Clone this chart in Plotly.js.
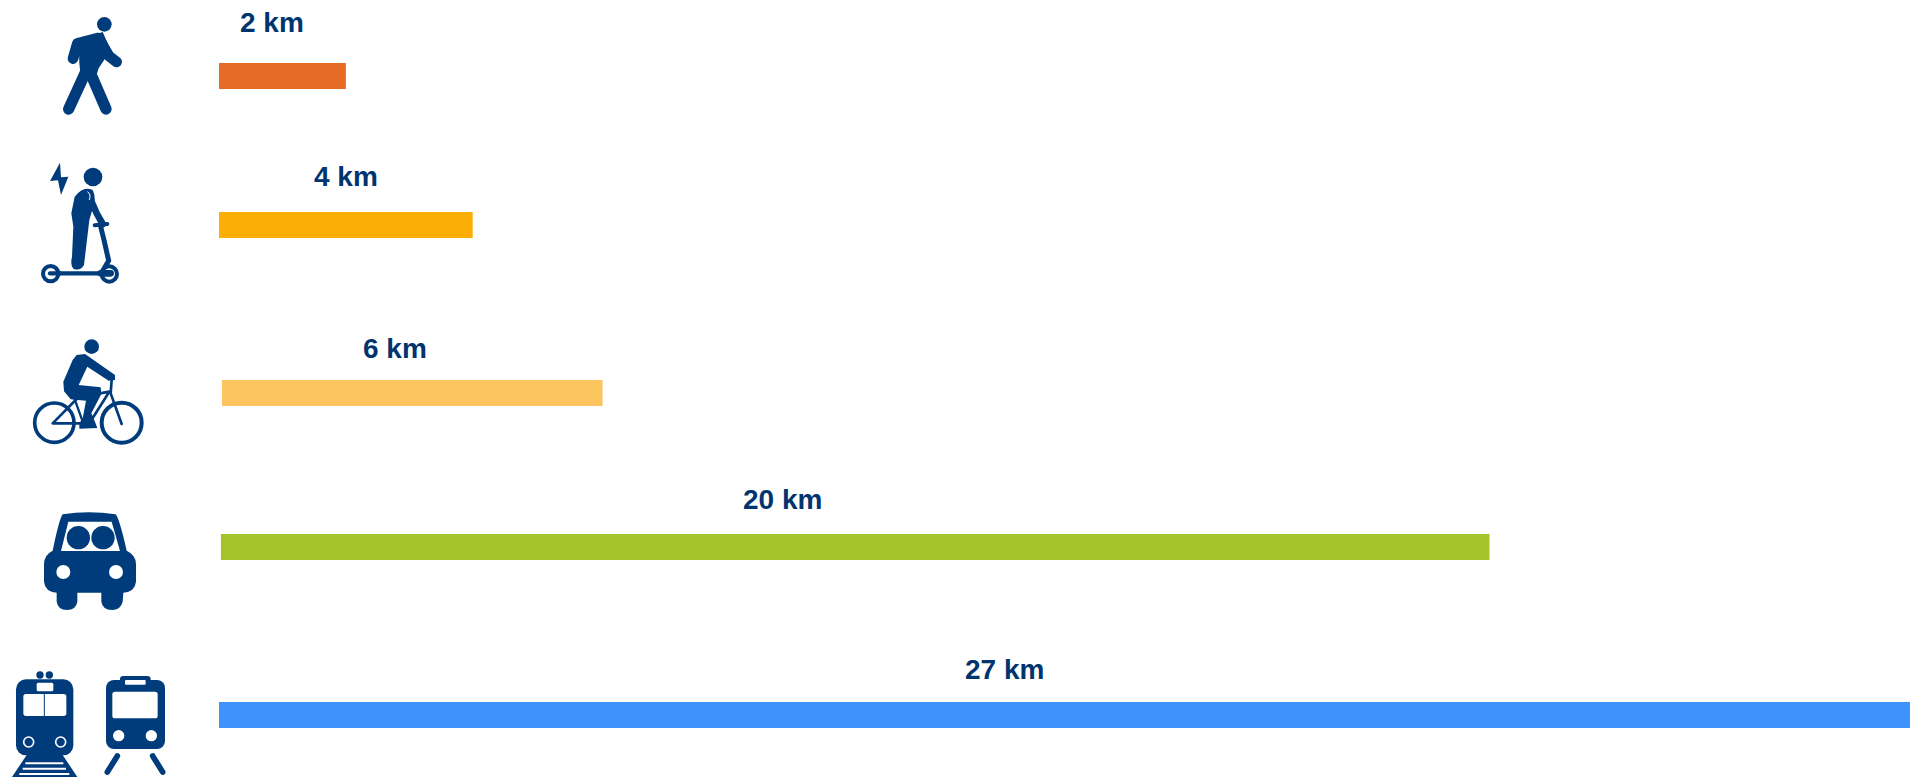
<!DOCTYPE html>
<html><head><meta charset="utf-8">
<script src="https://cdn.plot.ly/plotly-3.0.1.min.js"></script>
<style>html,body{margin:0;padding:0;background:#fff;overflow:hidden}#c{width:1910px;height:777px}</style>
</head><body><div id="c"></div>
<script>
// Data
const modes = ["Marche", "Trottinette électrique", "Vélo", "Voiture", "Train"];
const distancesKm = [2, 4, 6, 20, 27];
const barStartKm = [0, 0, 0.047, 0.03, 0];
const rowCentre = [76, 225, 393, 547, 715];
const labelAtKm = [0.83, 2.0, 2.77, 8.88, 12.38];
const labelRow = [22, 176, 348, 499, 669];
const barColours = ["#E66C25", "#FBAE05", "#FBC45F", "#A4C52A", "#3D92FB"];

const PX_PER_KM = 63.43, LEFT = 219, W = 1910, H = 777;
const INK = "#003C7C";

// Icons, drawn at 3x page coordinates
const walker = `
<circle cx="313" cy="73" r="22"/>
<g fill="none" stroke-linecap="round" stroke-linejoin="round" stroke="${INK}">
<polyline stroke-width="32" points="219,176 232,130 295,114"/>
<polyline stroke-width="32" points="302,125 327,168 350,186"/>
<polyline stroke-width="34" points="262,205 206,327"/>
<polyline stroke-width="34" points="265,205 318,327"/>
</g>
<polygon points="236,120 308,96 332,150 296,205 284,242 243,238 238,190"/>`;

const scooter = `
<polygon points="180,488 150,543 174,541 183,585 205,530 183,532"/>
<circle cx="279" cy="531" r="28"/>
<path d="M224 590 Q250 556 278 570 Q288 590 282 612 L268 660 L252 795 Q240 815 220 806 Q210 795 216 770 L220 680 L214 640 Z"/>
<g fill="none" stroke-linecap="round" stroke="${INK}">
<polyline stroke-width="20" points="268,590 290,640 308,672"/>
<polyline stroke-width="12" points="284,676 322,672"/>
<polyline stroke-width="15" points="300,672 312,720 326,782 305,818"/>
<line stroke-width="13" x1="150" y1="820" x2="330" y2="820"/>
<circle stroke-width="12" fill="#fff" cx="152" cy="821" r="23"/>
<circle stroke-width="12" fill="#fff" cx="328" cy="822" r="23"/>
<line stroke-width="13" x1="150" y1="820" x2="180" y2="820"/>
<line stroke-width="20" x1="302" y1="820" x2="332" y2="820"/>
</g>
<path d="M262 575 Q274 582 268 600" fill="none" stroke="#fff" stroke-width="3"/>`;

const bike = `
<g transform="translate(0,900)">
<circle cx="275" cy="140" r="22"/>
<polygon points="230,165 255,162 345,225 345,240 326,242 262,200 236,255 302,262 304,282 274,340 286,368 292,384 238,386 238,370 248,355 258,302 212,298 192,274 190,245 218,180"/>
<g fill="none" stroke="${INK}" stroke-linecap="round">
<circle stroke-width="11" cx="163" cy="368" r="59"/>
<circle stroke-width="12" cx="365" cy="368" r="60"/>
<polyline stroke-width="8" points="158,370 235,292 328,275 268,370 158,370"/>
<polyline stroke-width="8" points="335,240 332,280 365,372"/>
<line stroke-width="7" x1="222" y1="292" x2="250" y2="370"/>
</g></g>`;

const car = `
<g transform="translate(0,900)">
<path d="M188 643 Q265 630 347 643 Q358 655 380 752 Q408 765 408 792 L408 845 Q405 875 370 878 L368 905 Q362 930 336 930 Q308 930 304 905 L304 878 L232 878 L232 905 Q228 930 201 930 Q174 930 170 905 L170 878 Q135 875 132 845 L132 792 Q132 765 158 752 Q178 655 188 643 Z"/>
<polygon fill="#fff" points="205,665 335,665 360,753 183,753"/>
<circle cx="235" cy="713" r="35"/>
<circle cx="309" cy="713" r="35"/>
<circle fill="#fff" cx="190" cy="816" r="21"/>
<circle fill="#fff" cx="348" cy="816" r="21"/>
</g>`;

const trains = `
<g transform="translate(0,1800)">
<circle cx="120" cy="225" r="11"/>
<circle cx="148" cy="225" r="11"/>
<rect x="48" y="238" width="172" height="228" rx="30"/>
<rect fill="#fff" x="110" y="248" width="50" height="26" rx="5"/>
<rect fill="#fff" x="70" y="282" width="129" height="66" rx="8"/>
<line x1="133" y1="282" x2="133" y2="348" stroke="${INK}" stroke-width="3"/>
<circle cx="86" cy="426" r="15" stroke="#fff" stroke-width="5"/>
<circle cx="182" cy="426" r="15" stroke="#fff" stroke-width="5"/>
<polygon points="82,462 186,462 232,531 36,531"/>
<g stroke="#fff" stroke-width="6">
<line x1="76" y1="490" x2="190" y2="490"/>
<line x1="68" y1="506" x2="198" y2="506"/>
<line x1="58" y1="522" x2="208" y2="522"/>
</g>
<rect x="360" y="228" width="92" height="30" rx="10"/>
<rect x="318" y="240" width="177" height="207" rx="24"/>
<rect fill="#fff" x="375" y="240" width="62" height="14" rx="3"/>
<rect fill="#fff" x="337" y="275" width="136" height="80" rx="8"/>
<circle fill="#fff" cx="356" cy="407" r="17"/>
<circle fill="#fff" cx="454" cy="407" r="17"/>
<g stroke="${INK}" stroke-width="17" stroke-linecap="round">
<line x1="352" y1="468" x2="322" y2="516"/>
<line x1="458" y1="468" x2="488" y2="516"/>
</g></g>`;

const iconSheet = `<svg xmlns="http://www.w3.org/2000/svg" width="400" height="777" viewBox="0 0 1200 2331"><g fill="${INK}">${walker}${scooter}${bike}${car}${trains}</g></svg>`;

const trace = {
  type: "bar", orientation: "h",
  y: rowCentre, x: distancesKm, base: barStartKm, width: 26,
  text: modes, textposition: "none", hoverinfo: "text",
  marker: { color: barColours, line: { width: 0 } }
};

const annotations = distancesKm.map((d, i) => ({
  xref: "x", yref: "y", x: labelAtKm[i], y: labelRow[i],
  text: d + " km", showarrow: false, xanchor: "center", yanchor: "middle",
  font: { family: "Liberation Sans, Arial, sans-serif", size: 28, color: "#00346F", weight: 700 }
}));

const layout = {
  width: W, height: H,
  margin: { l: LEFT, r: 0, t: 0, b: 0, pad: 0 },
  paper_bgcolor: "#fff", plot_bgcolor: "#fff",
  showlegend: false,
  xaxis: { range: [0, (W - LEFT) / PX_PER_KM], visible: false, fixedrange: true },
  yaxis: { range: [H, 0], visible: false, fixedrange: true },
  annotations,
  images: [{
    source: "data:image/svg+xml;charset=utf-8," + encodeURIComponent(iconSheet),
    xref: "paper", yref: "paper",
    x: -LEFT / (W - LEFT), y: 1,
    sizex: 400 / (W - LEFT), sizey: 1,
    xanchor: "left", yanchor: "top", sizing: "stretch", layer: "above"
  }]
};

Plotly.newPlot("c", [trace], layout, { displayModeBar: false, staticPlot: true });
</script></body></html>
